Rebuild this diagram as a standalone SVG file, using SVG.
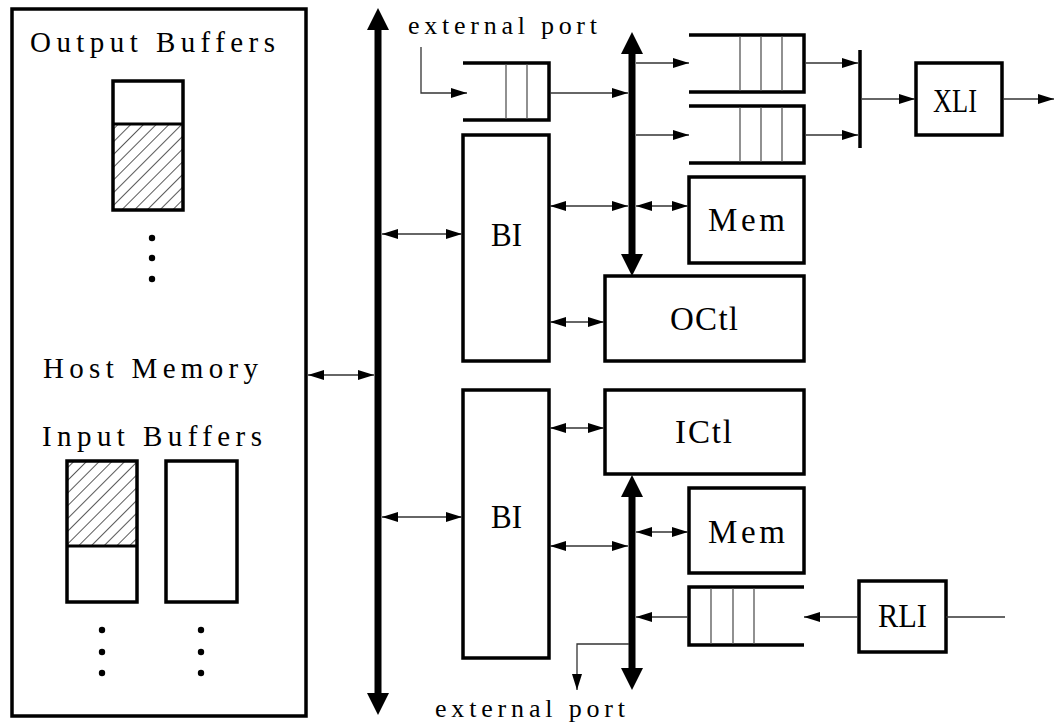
<svg xmlns="http://www.w3.org/2000/svg" width="1054" height="725" viewBox="0 0 1054 725">
<style>
.box{fill:#fff;stroke:#000;stroke-width:3.5}
.qe{fill:none;stroke:#000;stroke-width:3.5}
.ql{fill:none;stroke:#555;stroke-width:1.3}
.ln{fill:none;stroke:#333;stroke-width:1.3}
.bus{fill:none;stroke:#000;stroke-width:7}
.t{font-family:"Liberation Serif",serif;fill:#000}
.big{font-size:29px}
.lab{font-size:33px}
.ext{font-size:26px}
</style>
<defs>
<marker id="a" viewBox="0 0 16 10" refX="16" refY="5" markerWidth="16" markerHeight="10" markerUnits="userSpaceOnUse" orient="auto-start-reverse"><path d="M0,0 L16,5 L0,10 z" fill="#000"/></marker>
<marker id="b" viewBox="0 0 22 22" refX="0" refY="11" markerWidth="22" markerHeight="22" markerUnits="userSpaceOnUse" orient="auto-start-reverse"><path d="M0,0 L22,11 L0,22 z" fill="#000"/></marker>
<pattern id="hatch" width="9" height="9" patternUnits="userSpaceOnUse" patternTransform="rotate(45)"><line x1="0" y1="0" x2="0" y2="9" stroke="#000" stroke-width="1.3"/></pattern>
</defs>

<g id="host">
<rect class="box" x="12" y="9" width="294" height="707"/>
<text class="t big" x="30" y="52" textLength="245" lengthAdjust="spacing">Output Buffers</text>
<rect x="113" y="124" width="70" height="86" fill="url(#hatch)"/>
<rect class="box" x="113" y="81" width="70" height="129" style="fill:none"/>
<line class="qe" x1="113" y1="124" x2="183" y2="124" style="stroke-width:3"/>
<circle cx="152" cy="238" r="3.2"/><circle cx="152" cy="258" r="3.2"/><circle cx="152" cy="279" r="3.2"/>
<text class="t big" x="43" y="378" textLength="215" lengthAdjust="spacing">Host Memory</text>
<text class="t big" x="42" y="446" textLength="220" lengthAdjust="spacing">Input Buffers</text>
<rect x="67" y="461" width="70" height="85" fill="url(#hatch)"/>
<rect class="box" x="67" y="461" width="70" height="141" style="fill:none"/>
<line class="qe" x1="67" y1="546" x2="137" y2="546" style="stroke-width:3"/>
<rect class="box" x="166" y="461" width="71" height="141"/>
<circle cx="102" cy="630" r="3.2"/><circle cx="102" cy="652" r="3.2"/><circle cx="102" cy="673" r="3.2"/>
<circle cx="201" cy="630" r="3.2"/><circle cx="201" cy="652" r="3.2"/><circle cx="201" cy="673" r="3.2"/>
</g>

<g id="buses">
<line class="bus" x1="378" y1="30" x2="378" y2="693" marker-start="url(#b)" marker-end="url(#b)"/>
<line class="bus" x1="632" y1="54" x2="632" y2="254" marker-start="url(#b)" marker-end="url(#b)"/>
<line class="bus" x1="632" y1="497" x2="632" y2="668" marker-start="url(#b)" marker-end="url(#b)"/>
</g>

<g id="q-ext">
<path class="qe" d="M463,63 H549 V120 H463"/>
<line class="ql" x1="506" y1="64" x2="506" y2="119"/>
<line class="ql" x1="527" y1="64" x2="527" y2="119"/>
</g>
<g id="q-a">
<path class="qe" d="M689,35 H804 V92 H689"/>
<line class="ql" x1="740" y1="36" x2="740" y2="91"/>
<line class="ql" x1="761" y1="36" x2="761" y2="91"/>
<line class="ql" x1="782" y1="36" x2="782" y2="91"/>
</g>
<g id="q-b">
<path class="qe" d="M689,106 H804 V163 H689"/>
<line class="ql" x1="740" y1="107" x2="740" y2="162"/>
<line class="ql" x1="761" y1="107" x2="761" y2="162"/>
<line class="ql" x1="782" y1="107" x2="782" y2="162"/>
</g>
<g id="q-rli">
<path class="qe" d="M804,587 H689 V645 H804"/>
<line class="ql" x1="711" y1="588" x2="711" y2="644"/>
<line class="ql" x1="733" y1="588" x2="733" y2="644"/>
<line class="ql" x1="754" y1="588" x2="754" y2="644"/>
</g>

<g id="merge"><line x1="860" y1="50" x2="860" y2="148" stroke="#000" stroke-width="3.5"/></g>

<g id="bi1"><rect class="box" x="463" y="135" width="86" height="226"/><text class="t lab" x="491" y="246" textLength="31" lengthAdjust="spacingAndGlyphs">BI</text></g>
<g id="bi2"><rect class="box" x="463" y="390" width="86" height="268"/><text class="t lab" x="491" y="528" textLength="31" lengthAdjust="spacingAndGlyphs">BI</text></g>
<g id="mem1"><rect class="box" x="689" y="177" width="115" height="86"/><text class="t lab" x="708" y="231" textLength="77" lengthAdjust="spacing">Mem</text></g>
<g id="octl"><rect class="box" x="605" y="276" width="199" height="85"/><text class="t lab" x="670" y="330" textLength="68" lengthAdjust="spacing">OCtl</text></g>
<g id="ictl"><rect class="box" x="605" y="390" width="199" height="84"/><text class="t lab" x="675" y="443" textLength="57" lengthAdjust="spacing">ICtl</text></g>
<g id="mem2"><rect class="box" x="689" y="488" width="115" height="85"/><text class="t lab" x="708" y="543" textLength="77" lengthAdjust="spacing">Mem</text></g>
<g id="xli"><rect class="box" x="916" y="63" width="86" height="72"/><text class="t lab" x="933" y="112" textLength="44" lengthAdjust="spacingAndGlyphs">XLI</text></g>
<g id="rli"><rect class="box" x="859" y="581" width="87" height="71"/><text class="t lab" x="878" y="627" textLength="49" lengthAdjust="spacingAndGlyphs">RLI</text></g>

<g id="labels">
<text class="t ext" x="408" y="34" textLength="189" lengthAdjust="spacing">external port</text>
<text class="t ext" x="435" y="717" textLength="190" lengthAdjust="spacing">external port</text>
</g>

<g id="connectors">
<line class="ln" x1="308" y1="375" x2="374" y2="375" marker-start="url(#a)" marker-end="url(#a)"/>
<line class="ln" x1="382" y1="234" x2="462" y2="234" marker-start="url(#a)" marker-end="url(#a)"/>
<line class="ln" x1="382" y1="517" x2="462" y2="517" marker-start="url(#a)" marker-end="url(#a)"/>
<line class="ln" x1="550" y1="206" x2="628" y2="206" marker-start="url(#a)" marker-end="url(#a)"/>
<line class="ln" x1="636" y1="206" x2="688" y2="206" marker-start="url(#a)" marker-end="url(#a)"/>
<line class="ln" x1="550" y1="322" x2="604" y2="322" marker-start="url(#a)" marker-end="url(#a)"/>
<line class="ln" x1="550" y1="428" x2="604" y2="428" marker-start="url(#a)" marker-end="url(#a)"/>
<line class="ln" x1="550" y1="546" x2="628" y2="546" marker-start="url(#a)" marker-end="url(#a)"/>
<line class="ln" x1="636" y1="532" x2="688" y2="532" marker-start="url(#a)" marker-end="url(#a)"/>
<line class="ln" x1="688" y1="617" x2="636" y2="617" marker-end="url(#a)"/>
<line class="ln" x1="858" y1="617" x2="804" y2="617" marker-end="url(#a)"/>
<line class="ln" x1="946" y1="617" x2="1005" y2="617"/>
<polyline class="ln" points="629,644 577,644 577,690" marker-end="url(#a)"/>
<polyline class="ln" points="421,47 421,93 467,93" marker-end="url(#a)"/>
<line class="ln" x1="550" y1="93" x2="628" y2="93" marker-end="url(#a)"/>
<line class="ln" x1="636" y1="63" x2="689" y2="63" marker-end="url(#a)"/>
<line class="ln" x1="636" y1="135" x2="689" y2="135" marker-end="url(#a)"/>
<line class="ln" x1="806" y1="63" x2="858" y2="63" marker-end="url(#a)"/>
<line class="ln" x1="806" y1="135" x2="858" y2="135" marker-end="url(#a)"/>
<line class="ln" x1="862" y1="99" x2="915" y2="99" marker-end="url(#a)"/>
<line class="ln" x1="1003" y1="99" x2="1054" y2="99" marker-end="url(#a)"/>
</g>
</svg>
